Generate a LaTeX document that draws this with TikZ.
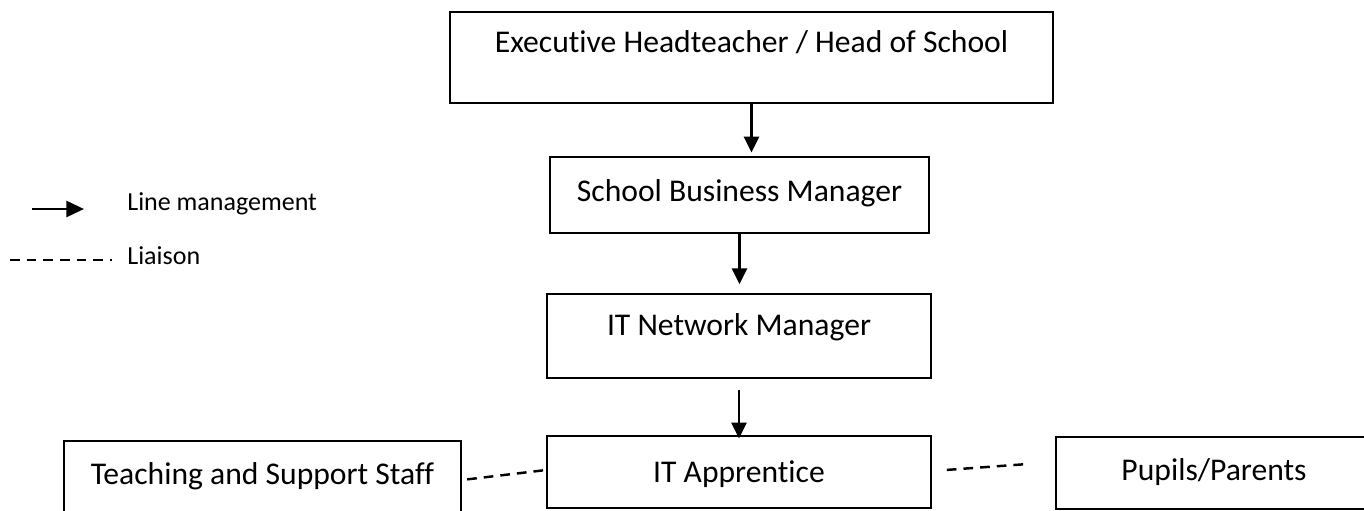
\documentclass[tikz,border=0pt]{standalone}
\usepackage{fontspec}
\setmainfont{Carlito}[Ligatures=NoCommon]
\usetikzlibrary{arrows.meta}

\begin{document}
\begin{tikzpicture}[x=0.02cm,y=-0.02cm,
  box/.style={shape=rectangle,draw,line width=1.1pt,inner sep=0pt,
    text height=0.4cm,text depth=0.1cm,font=\fontsize{18}{21.6}\selectfont},
  manages/.style={line width=1.5pt,-{Triangle[width=8.5pt,length=9pt]}},
  liaison/.style={line width=1.4pt,dash pattern=on 5.5pt off 4pt},
  key/.style={font=\fontsize{14.8}{17.5}\selectfont,anchor=base west,inner sep=0pt}]
\useasboundingbox (0,0) rectangle (1364,510);
% chain of line management
\node(head) [box,minimum width=12.06cm,minimum height=1.82cm,text depth=0.58cm] at (751.5,57.5) {Executive Headteacher / Head of School};
\node(business) [box,minimum width=7.58cm,minimum height=1.52cm,text depth=0.16cm] at (739.5,195) {School Business Manager};
\node(network) [box,minimum width=7.68cm,minimum height=1.68cm,text depth=0.44cm] at (739,336) {IT Network Manager};
\node(apprentice) [box,minimum width=7.68cm,minimum height=1.44cm,text height=0.52cm] at (739,472) {IT Apprentice};
\node(staff) [box,minimum width=7.94cm,minimum height=1.44cm] at (262.5,477) {Teaching and Support Staff};
\node(pupils) [box,minimum width=6.32cm,minimum height=1.44cm] at (1214,473) {Pupils/Parents};
\draw [manages,shorten >=2pt] (head.south) -- (head.south |- business.north);
\draw [manages,shorten >=5pt] (business.south) -- (business.south |- network.north);
\draw [manages,shorten <=6pt,shorten >=-2pt] (network.south) -- (apprentice.north);
\draw [liaison,shorten <=3pt] ([yshift=-0.06cm]staff.east) -- ([yshift=0.04cm]apprentice.west);
\draw [liaison,shorten <=8.5pt,shorten >=15pt] ([yshift=0.02cm]apprentice.east) -- ([yshift=0.22cm]pupils.west);
% key
\coordinate(arrowfrom) at (32,209);
\coordinate(arrowto) at (84,209);
\coordinate(dashfrom) at (10,260);
\coordinate(dashto) at (112,260);
\draw [line width=1.7pt,-{Triangle[width=9pt,length=10pt]}] (arrowfrom) -- (arrowto);
\draw [liaison] (dashfrom) -- (dashto);
\node(linekey) [key] at (127,210) {Line management};
\node(liaisonkey) [key] at (127,264) {Liaison};
\end{tikzpicture}
\end{document}
